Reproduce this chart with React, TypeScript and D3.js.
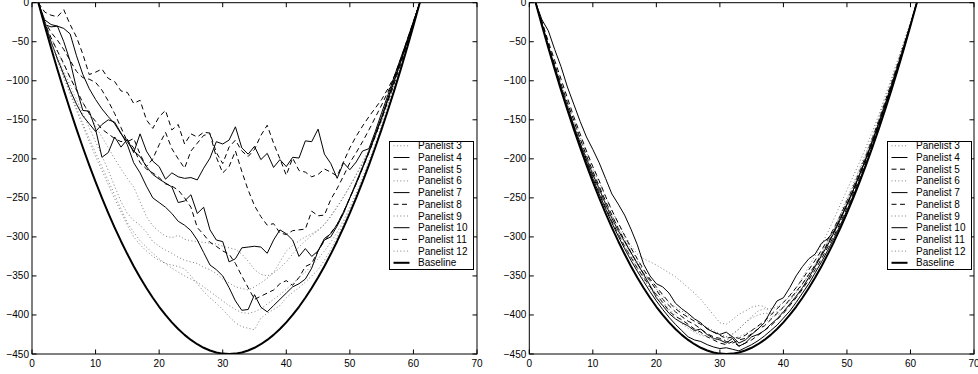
import React from 'react';
import * as d3 from 'd3';

const X = d3.range(1, 62);
const X_TICKS = [0, 10, 20, 30, 40, 50, 60, 70];
const Y_TICKS = [0, -50, -100, -150, -200, -250, -300, -350, -400, -450];
const LEGEND_LABELS = ['Panelist 3', 'Panelist 4', 'Panelist 5', 'Panelist 6', 'Panelist 7', 'Panelist 8', 'Panelist 9', 'Panelist 10', 'Panelist 11', 'Panelist 12', 'Baseline'];
const SERIES_KIND = ['dotted', 'solid', 'dashed', 'dotted', 'solid', 'dashed', 'dotted', 'solid', 'dashed', 'dotted', 'base'];

const BASELINE = [0,-29.5,-58,-85.5,-112,-137.5,-162,-185.5,-208,-229.5,-250,-269.5,-288,-305.5,-322,-337.5,-352,-365.5,-378,-389.5,-400,-409.5,-418,-425.5,-432,-437.5,-442,-445.5,-448,-449.5,-450,-449.5,-448,-445.5,-442,-437.5,-432,-425.5,-418,-409.5,-400,-389.5,-378,-365.5,-352,-337.5,-322,-305.5,-288,-269.5,-250,-229.5,-208,-185.5,-162,-137.5,-112,-85.5,-58,-29.5,0];

// Left panel
const LEFT_P3 = [0,-25,-45,-62,-80,-96,-112,-128,-143,-158,-172,-186,-200,-213,-225,-236,-255,-274,-286,-293,-299,-301,-298,-303,-305,-306,-307,-308,-309,-312,-314,-316,-322,-331,-342,-348,-350,-346,-340,-332,-322,-313,-305,-298,-292,-284,-274,-262,-249,-235,-220,-204,-188,-170,-150,-128,-104,-80,-54,-27,0];
const LEFT_P4 = [0,-28,-31,-30,-50,-75,-110,-138,-139,-162,-198,-192,-172,-185,-175,-192,-168,-190,-203,-210,-226,-218,-223,-225,-224,-227,-212,-199,-178,-181,-176,-159,-186,-194,-184,-201,-193,-211,-201,-210,-198,-199,-177,-178,-162,-194,-206,-225,-205,-214,-204,-190,-187,-165,-141,-118,-94,-71,-48,-24,0];
const LEFT_P5 = [0,-12,-16,-18,-9,-28,-44,-66,-92,-89,-85,-97,-101,-113,-115,-129,-125,-150,-161,-146,-138,-163,-156,-181,-168,-172,-166,-167,-192,-206,-185,-176,-190,-197,-188,-170,-157,-180,-200,-221,-199,-215,-217,-223,-220,-213,-217,-222,-204,-186,-171,-158,-146,-135,-124,-110,-94,-72,-48,-24,0];
const LEFT_P6 = [0,-28,-50,-70,-88,-106,-124,-142,-160,-178,-196,-215,-235,-255,-270,-279,-285,-294,-306,-312,-317,-321,-326,-330,-332,-334,-339,-342,-347,-354,-359,-364,-366,-368,-364,-359,-353,-346,-332,-318,-311,-305,-300,-296,-291,-284,-273,-261,-249,-235,-221,-206,-190,-172,-152,-130,-106,-81,-55,-28,0];
const LEFT_P7 = [0,-22,-28,-30,-33,-40,-68,-92,-110,-124,-136,-146,-155,-168,-178,-190,-197,-210,-220,-226,-231,-236,-256,-254,-246,-270,-262,-291,-304,-306,-332,-328,-314,-313,-312,-313,-321,-304,-291,-296,-304,-325,-315,-325,-318,-304,-300,-286,-270,-250,-230,-210,-190,-168,-146,-122,-98,-74,-50,-25,0];
const LEFT_P8 = [0,-24,-38,-48,-60,-74,-88,-96,-98,-102,-112,-126,-142,-160,-178,-174,-194,-210,-200,-182,-166,-187,-200,-212,-190,-180,-170,-168,-198,-218,-210,-190,-216,-240,-260,-274,-285,-283,-295,-297,-292,-291,-290,-267,-273,-272,-252,-238,-222,-205,-192,-178,-163,-147,-131,-114,-96,-74,-50,-25,0];
const LEFT_P9 = [0,-24,-52,-74,-95,-115,-135,-155,-174,-192,-210,-228,-246,-264,-282,-294,-305,-313,-321,-328,-334,-340,-345,-350,-354,-358,-364,-370,-376,-382,-388,-393,-397,-398,-396,-392,-386,-380,-374,-367,-360,-352,-345,-337,-328,-318,-307,-294,-279,-262,-244,-224,-203,-181,-158,-134,-109,-83,-56,-28,0];
const LEFT_P10 = [0,-26,-50,-72,-92,-112,-130,-145,-155,-165,-156,-150,-153,-167,-182,-205,-218,-235,-250,-256,-262,-270,-280,-285,-292,-304,-320,-336,-342,-350,-365,-382,-394,-393,-374,-390,-396,-388,-380,-372,-364,-360,-354,-340,-318,-302,-296,-284,-268,-250,-232,-212,-192,-170,-148,-124,-100,-76,-51,-26,0];
const LEFT_P11 = [0,-26,-45,-62,-78,-96,-112,-128,-142,-152,-162,-168,-174,-178,-176,-186,-205,-213,-218,-224,-232,-235,-240,-250,-262,-288,-297,-307,-312,-318,-322,-334,-350,-365,-380,-376,-372,-368,-360,-356,-362,-352,-338,-334,-318,-305,-295,-284,-268,-250,-232,-212,-192,-171,-149,-126,-103,-79,-53,-27,0];
const LEFT_P12 = [0,-26,-50,-73,-96,-117,-138,-158,-178,-197,-215,-233,-251,-268,-285,-300,-310,-318,-325,-330,-334,-336,-338,-341,-350,-360,-370,-378,-385,-393,-402,-410,-415,-417,-419,-404,-398,-393,-388,-378,-371,-365,-358,-350,-342,-330,-316,-300,-283,-265,-247,-227,-206,-184,-160,-136,-111,-85,-58,-29,0];

// Right panel
const RIGHT_P3 = [0,-28,-55,-80,-104,-128,-150,-172,-192,-212,-230,-248,-266,-283,-298,-311,-322,-328,-332,-336,-341,-346,-351,-358,-365,-372,-380,-390,-400,-410,-412,-406,-399,-395,-390,-388,-389,-398,-400,-396,-388,-378,-366,-352,-338,-323,-306,-289,-270,-250,-232,-212,-192,-171,-148,-124,-100,-76,-51,-26,0];
const RIGHT_P4 = [0,-22,-36,-60,-82,-108,-130,-152,-172,-188,-205,-225,-245,-258,-272,-290,-310,-335,-350,-360,-364,-372,-385,-392,-398,-405,-410,-418,-422,-425,-422,-428,-436,-432,-425,-418,-410,-395,-382,-378,-365,-350,-338,-328,-322,-308,-302,-292,-275,-258,-240,-220,-200,-178,-155,-131,-107,-82,-55,-28,0];
const RIGHT_P5 = [0,-24,-50,-74,-98,-122,-146,-168,-190,-210,-228,-248,-266,-282,-298,-314,-328,-342,-354,-364,-374,-384,-392,-398,-403,-408,-412,-417,-422,-426,-430,-428,-430,-426,-420,-414,-408,-400,-392,-384,-375,-365,-354,-342,-330,-317,-303,-288,-272,-254,-236,-216,-196,-174,-151,-127,-103,-78,-53,-27,0];
const RIGHT_P6 = [0,-27,-56,-82,-107,-131,-155,-178,-199,-219,-238,-256,-272,-288,-302,-316,-330,-344,-357,-367,-376,-384,-390,-395,-400,-405,-411,-416,-420,-424,-428,-425,-418,-410,-404,-400,-398,-398,-396,-390,-382,-372,-361,-349,-336,-322,-307,-291,-274,-256,-237,-218,-198,-176,-153,-129,-104,-79,-53,-27,0];
const RIGHT_P7 = [0,-27,-55,-82,-108,-133,-157,-180,-200,-220,-238,-258,-276,-292,-306,-320,-334,-348,-362,-378,-388,-398,-405,-410,-414,-420,-418,-425,-430,-432,-436,-430,-440,-436,-428,-425,-420,-412,-405,-396,-386,-376,-365,-352,-338,-324,-310,-294,-277,-259,-240,-220,-199,-177,-154,-130,-106,-81,-55,-28,0];
const RIGHT_P8 = [0,-28,-56,-83,-109,-134,-157,-180,-202,-222,-242,-262,-280,-296,-312,-326,-340,-352,-364,-374,-384,-395,-402,-406,-412,-418,-422,-428,-432,-436,-438,-434,-440,-436,-432,-426,-420,-414,-406,-398,-388,-378,-367,-355,-342,-328,-313,-298,-281,-263,-244,-224,-203,-181,-157,-133,-108,-82,-56,-28,0];
const RIGHT_P9 = [0,-26,-54,-80,-106,-130,-154,-176,-198,-218,-238,-257,-275,-292,-308,-323,-337,-350,-362,-373,-383,-392,-400,-408,-414,-420,-424,-428,-430,-432,-432,-430,-428,-424,-420,-415,-410,-404,-398,-390,-381,-371,-360,-348,-335,-320,-305,-289,-272,-254,-235,-215,-195,-174,-152,-128,-104,-79,-53,-27,0];
const RIGHT_P10 = [0,-28,-57,-84,-110,-135,-159,-182,-204,-225,-245,-264,-282,-299,-315,-330,-344,-357,-370,-382,-393,-403,-412,-420,-428,-432,-434,-438,-441,-443,-442,-444,-446,-442,-438,-433,-427,-420,-413,-404,-395,-384,-372,-360,-346,-332,-317,-301,-284,-266,-247,-227,-206,-184,-160,-136,-111,-85,-58,-29,0];
const RIGHT_P11 = [0,-26,-53,-79,-104,-128,-151,-174,-196,-216,-235,-254,-272,-289,-305,-320,-334,-347,-356,-368,-380,-388,-396,-402,-408,-412,-418,-424,-428,-430,-434,-436,-432,-430,-424,-418,-414,-406,-398,-390,-380,-370,-360,-348,-336,-322,-308,-293,-277,-259,-241,-221,-200,-178,-155,-131,-107,-81,-55,-28,0];
const RIGHT_P12 = [0,-29,-57,-84,-110,-134,-158,-180,-202,-222,-242,-261,-279,-296,-312,-327,-341,-354,-366,-377,-387,-396,-404,-411,-417,-422,-426,-428,-430,-430,-428,-424,-418,-410,-402,-395,-392,-392,-390,-384,-376,-366,-352,-338,-324,-310,-294,-276,-258,-240,-222,-204,-185,-165,-144,-120,-97,-73,-49,-25,0];

const LEFT_SERIES = [LEFT_P3, LEFT_P4, LEFT_P5, LEFT_P6, LEFT_P7, LEFT_P8, LEFT_P9, LEFT_P10, LEFT_P11, LEFT_P12, BASELINE];
const RIGHT_SERIES = [RIGHT_P3, RIGHT_P4, RIGHT_P5, RIGHT_P6, RIGHT_P7, RIGHT_P8, RIGHT_P9, RIGHT_P10, RIGHT_P11, RIGHT_P12, BASELINE];

const STYLE: Record<string, { stroke: string; width: number; dash?: string }> = {
  dotted: { stroke: '#707070', width: 0.9, dash: '1 2.4' },
  solid: { stroke: '#000', width: 1 },
  dashed: { stroke: '#000', width: 1, dash: '5 3.5' },
  base: { stroke: '#000', width: 2 },
};

const FONT = "'Liberation Sans', Arial, Helvetica, sans-serif";
const TOP = 2.7;
const BOTTOM = 354;
const TICK = 4.5;

const fmt = (v: number) => (v < 0 ? '\u2212' + Math.abs(v) : String(v));

function Panel({ left, right, legendX, series }: { left: number; right: number; legendX: number; series: number[][] }) {
  const x = d3.scaleLinear().domain([0, 70]).range([left, right]);
  const y = d3.scaleLinear().domain([-450, 0]).range([BOTTOM, TOP]);
  const line = d3.line<number>().x((_, i) => x(X[i])).y((d) => y(d));
  const legendY = 141.5;
  const rowH = 11.7;
  return (
    <g>
      <defs>
        <clipPath id={`clip-${left}`}>
          <rect x={left} y={TOP} width={right - left} height={BOTTOM - TOP} />
        </clipPath>
      </defs>
      <g clipPath={`url(#clip-${left})`}>
        {series.map((s, i) => {
          const st = STYLE[SERIES_KIND[i]];
          return (
            <path key={i} d={line(s) || ''} fill="none" stroke={st.stroke} strokeWidth={st.width}
              strokeDasharray={st.dash} strokeLinejoin="round" />
          );
        })}
      </g>
      <rect x={left} y={TOP} width={right - left} height={BOTTOM - TOP} fill="none" stroke="#000" strokeWidth={1} />
      {X_TICKS.map((t) => (
        <g key={'x' + t}>
          <line x1={x(t)} x2={x(t)} y1={BOTTOM} y2={BOTTOM - TICK} stroke="#000" />
          <line x1={x(t)} x2={x(t)} y1={TOP} y2={TOP + TICK} stroke="#000" />
          <text x={x(t)} y={BOTTOM + 12.5} fontSize={10} fontFamily={FONT} textAnchor="middle" fill="#000">{fmt(t)}</text>
        </g>
      ))}
      {Y_TICKS.map((t) => (
        <g key={'y' + t}>
          <line x1={left} x2={left + TICK} y1={y(t)} y2={y(t)} stroke="#000" />
          <line x1={right} x2={right - TICK} y1={y(t)} y2={y(t)} stroke="#000" />
          <text x={left - 3} y={y(t) + 3.5} fontSize={10} fontFamily={FONT} textAnchor="end" fill="#000">{fmt(t)}</text>
        </g>
      ))}
      <rect x={legendX} y={legendY} width={84} height={128} fill="#fff" stroke="#000" strokeWidth={1} />
      {LEGEND_LABELS.map((lab, i) => {
        const st = STYLE[SERIES_KIND[i]];
        const cy = legendY + 4.3 + i * rowH;
        return (
          <g key={lab}>
            <line x1={legendX + 4} x2={legendX + 20} y1={cy} y2={cy} stroke={st.stroke} strokeWidth={st.width} strokeDasharray={st.dash} />
            <text x={legendX + 28.5} y={cy + 3.5} fontSize={10} fontFamily={FONT} fill="#000">{lab}</text>
          </g>
        );
      })}
    </g>
  );
}

export default function App() {
  return (
    <svg width={978} height={374} style={{ position: 'absolute', left: 0, top: 0, background: '#fff' }}>
      <rect x={0} y={0} width={978} height={374} fill="#fff" />
      <Panel left={32} right={477} legendX={389.5} series={LEFT_SERIES} />
      <Panel left={529.3} right={974} legendX={887.5} series={RIGHT_SERIES} />
    </svg>
  );
}
